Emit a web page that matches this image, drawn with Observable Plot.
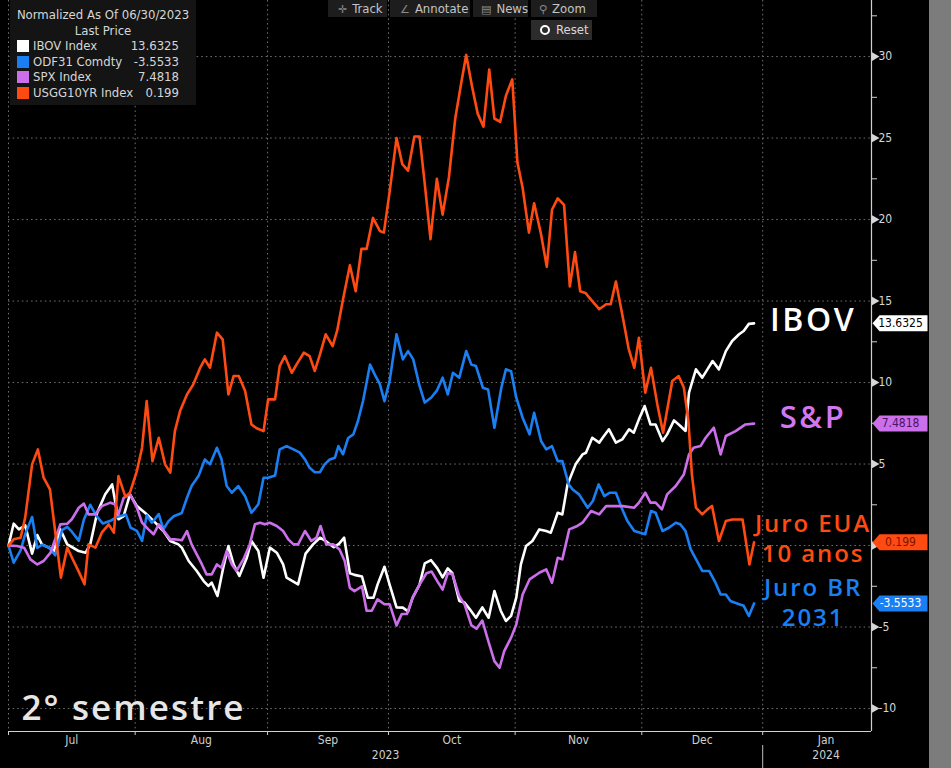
<!DOCTYPE html>
<html>
<head>
<meta charset="utf-8">
<script src="https://cdn.jsdelivr.net/npm/d3@7"></script>
<script src="https://cdn.jsdelivr.net/npm/@observablehq/plot@0.6"></script>
<style>
  body { margin: 0; background: #000; }
  #wrap { position: relative; width: 951px; height: 768px; background: #000; overflow: hidden;
          font-family: "Liberation Sans Narrow", "DejaVu Sans Condensed", "Arial Narrow", sans-serif; }
  #chart { position: absolute; left: 0; top: 0; }
  #strip { position: absolute; left: 929px; top: 0; width: 22px; height: 768px; background: #7c7c7c; }
  #legend { position: absolute; left: 10px; top: 0; width: 186px; height: 105px; background: #141414;
            color: #d6d6d6; font-size: 13px; line-height: 15.6px; }
  #legend .t { text-align: center; }
  #legend .t1 { margin-top: 7px; }
  #legend .row { position: relative; height: 15.6px; }
  #legend .sq { position: absolute; left: 7px; top: 2px; width: 12px; height: 12px; }
  #legend .nm { position: absolute; left: 23px; top: 0; }
  #legend .vl { position: absolute; right: 17px; top: 0; }
  .btn { position: absolute; top: 0; height: 17px; background: #1d1d1d; color: #c4c4c4; font-size: 13px;
         line-height: 17px; white-space: nowrap; }
  .btn .ic { color: #8a8a8a; margin-right: 5px; font-family: "DejaVu Sans", sans-serif; font-size: 11px; }
  #reset { position: absolute; left: 531px; top: 20px; width: 61px; height: 20px; background: #2c2c2c;
           color: #d8d8d8; font-size: 13px; line-height: 20px; }
  #reset .dot { position: absolute; left: 9px; top: 5px; width: 6px; height: 6px; border: 2.5px solid #fff;
                border-radius: 50%; background: #2c2c2c; }
  #reset span.tx { position: absolute; left: 25px; }
  svg .spaced text { letter-spacing: 0.08em; }
  svg .spaced-s text { letter-spacing: 0.06em; }
</style>
</head>
<body>
<div id="wrap">
  <div id="chart"></div>
  <div id="strip"></div>
  <div id="legend"></div>
  <div class="btn" style="left:328px;width:59px;"><span class="ic" style="margin-left:10px">✛</span>Track</div>
  <div class="btn" style="left:390px;width:80px;"><span class="ic" style="margin-left:10px">∠</span>Annotate</div>
  <div class="btn" style="left:473px;width:55px;"><span class="ic" style="margin-left:8px">▤</span>News</div>
  <div class="btn" style="left:531px;width:66px;"><span class="ic" style="margin-left:8px">⚲</span>Zoom</div>
  <div id="reset"><span class="dot"></span><span class="tx">Reset</span></div>
</div>
<script>
// ---------- DATA (x = trading day after 06/30/2023, y = % change, normalized at 06/30/2023) ----------
const ibov = [[0,0],[0.9,1.34],[1.8,0.99],[2.9,1.24],[4.1,-0.5],[5.0,0.64],[5.8,0.07],[7.0,-0.13],[7.9,-0.34],
  [9.0,0.99],[10.2,0.07],[11.0,-0.09],[12.2,-0.34],[13.4,-0.44],[14.2,0.07],[15.4,2.01],[16.8,3.14],[18.0,3.75],
  [19.1,1.61],[20.0,1.81],[21.1,3.14],[22.3,2.42],[23.7,2.01],[24.6,1.71],[25.8,1.30],[26.9,0.89],[28.1,0.28],
  [29.5,0.07],[30.1,-0.13],[31.3,-0.95],[32.7,-1.56],[33.9,-2.18],[34.7,-2.48],[35.3,-2.28],[36.3,-3.10],
  [37.3,-1.36],[38.2,-0.03],[39.1,-1.16],[40.1,-1.87],[41.4,-0.75],[42.2,0.28],[43.4,-0.34],[44.3,-1.97],
  [45.4,-0.13],[46.6,-0.44],[47.7,-1.16],[48.3,-1.97],[50.3,-2.38],[51.6,-0.5],[52.9,0.07],[54.1,0.48],
  [55.2,0.25],[56.5,-0.1],[57.4,0.1],[58.3,0.48],[59.3,-1.7],[60.1,-1.8],[61.4,-1.9],[62.4,-3.2],[63.4,-3.2],
  [64.1,-2.4],[65.3,-1.3],[66.2,-2.4],[67.4,-3.8],[68.5,-3.81],[69.4,-4.05],[70.2,-3.2],[71.4,-2.4],[72.3,-1.1],
  [73.4,-0.9],[74.5,-1.4],[75.4,-1.95],[76.3,-1.4],[77.1,-1.7],[78.3,-3.4],[79.2,-3.5],[80.1,-3.9],[81.2,-4.43],
  [82.3,-3.8],[83.4,-4.43],[84.4,-2.79],[85.5,-4.0],[86.4,-4.63],[87.3,-4.32],[88.2,-3.2],[89.0,-1.16],
  [89.9,-0.03],[91.0,0.28],[92.2,0.99],[93.4,0.89],[94.2,0.79],[95.4,2.01],[96.2,1.91],[97.1,3.75],[98.5,4.98],
  [99.7,5.59],[100.3,5.69],[101.4,6.61],[102.6,6.31],[103.2,6.61],[104.3,7.13],[105.5,6.31],[106.6,6.51],
  [107.8,7.13],[108.6,6.92],[109.5,7.74],[110.5,8.56],[111.5,7.43],[112.4,7.43],[113.6,6.41],[114.4,6.82],
  [115.6,7.68],[116.7,7.33],[117.6,7.03],[118.2,9.38],[119.4,10.81],[120.5,10.30],[121.4,10.81],[122.3,11.32],
  [123.4,10.81],[124.6,11.93],[125.7,12.55],[126.9,12.96],[127.7,13.16],[128.6,13.6],[129.5,13.6325]];

const odf31 = [[0,0],[0.9,-1.05],[2.1,-0.3],[2.9,0.7],[4.1,1.75],[5.0,-0.15],[5.8,0.05],[7.0,-0.1],[8.1,-0.6],
  [9.3,0.95],[10.2,1.15],[11.0,0.85],[12.2,0.3],[13.1,1.6],[14.2,2.5],[15.3,1.8],[16.4,1.35],[17.6,1.5],
  [18.8,1.75],[20.4,1.9],[21.2,1.1],[22.3,0.9],[23.2,0.28],[24.0,1.85],[24.9,1.4],[26.1,1.93],[26.9,1.0],
  [27.8,1.5],[28.7,1.8],[30.1,2.0],[31.0,2.93],[31.8,3.65],[33.0,4.26],[34.1,5.28],[35.0,4.98],[36.2,6.0],
  [37.0,5.29],[37.9,3.65],[38.8,3.24],[39.9,3.65],[41.1,3.03],[42.2,2.01],[43.4,2.53],[44.3,4.16],[45.1,4.16],
  [46.3,4.3],[47.1,5.9],[48.3,6.1],[49.5,5.9],[50.6,5.7],[51.5,5.28],[52.3,4.77],[53.2,4.5],[54.1,4.5],
  [54.9,4.98],[55.8,5.28],[56.7,5.39],[57.3,6.1],[58.1,5.6],[59.0,6.6],[59.9,6.82],[60.7,7.64],[61.6,8.9],
  [62.8,11.1],[63.6,10.5],[64.5,9.9],[65.3,8.86],[66.2,10.1],[67.4,12.96],[68.5,11.42],[69.4,11.93],
  [70.3,11.42],[71.4,9.79],[72.3,8.77],[73.4,9.07],[74.4,9.5],[75.4,10.30],[76.3,9.27],[77.2,10.6],[78.3,10.3],
  [79.5,11.93],[80.4,11.1],[81.2,11.01],[82.4,9.68],[83.3,9.58],[84.4,7.23],[85.6,9.68],[86.4,10.81],
  [87.3,10.7],[88.2,9.07],[89.3,7.84],[90.5,6.82],[91.3,8.15],[92.5,6.41],[93.4,5.9],[94.4,6.1],[95.4,5.18],
  [96.2,5.18],[97.3,3.75],[98.0,3.44],[99.1,3.14],[100.6,2.32],[101.5,2.73],[102.5,3.75],[103.5,3.03],
  [104.4,3.24],[105.5,3.24],[106.6,2.22],[107.5,1.50],[108.7,0.89],[109.6,0.8],[110.6,0.69],[111.6,2.12],
  [112.4,2.01],[113.6,0.89],[114.7,1.09],[115.9,1.40],[116.7,1.30],[117.6,0.89],[118.5,-0.24],[119.6,-0.95],
  [120.5,-1.56],[121.7,-1.56],[122.8,-2.28],[123.7,-3.0],[124.6,-3.0],[125.4,-3.4],[126.9,-3.6],[127.7,-3.7],
  [128.6,-4.32],[129.5,-3.5533]];

const spx = [[0,0],[1.5,-0.03],[2.7,-0.13],[3.8,-0.85],[5.0,-1.16],[6.1,-0.95],[7.3,-0.44],[9.0,1.30],
  [10.2,1.34],[11.0,1.61],[12.2,2.32],[13.1,2.57],[13.9,1.91],[15.1,1.91],[16.2,2.42],[17.7,2.63],[18.5,2.53],
  [19.1,1.91],[20.0,2.93],[21.1,3.14],[22.3,2.32],[23.2,1.40],[24.3,0.99],[25.2,0.69],[26.1,1.30],[27.2,0.79],
  [28.1,0.38],[28.9,0.38],[30.1,0.32],[31.0,0.89],[31.8,0.07],[32.7,-0.54],[33.6,-1.16],[34.4,-1.77],
  [35.3,-1.77],[36.2,-1.16],[37.0,-1.36],[37.9,-0.34],[38.8,-1.16],[39.6,-1.56],[40.8,-0.85],[41.9,0.07],
  [42.8,1.30],[43.7,1.40],[44.5,1.30],[45.4,1.40],[46.6,1.20],[47.7,0.89],[48.6,0.38],[49.5,0.07],[50.3,0.07],
  [51.5,0.89],[52.6,0.28],[53.5,0.48],[54.2,1.20],[55.2,0.07],[56.4,0.07],[57.5,-0.24],[58.4,-0.95],
  [59.3,-2.6],[60.1,-2.8],[61.4,-2.5],[62.2,-4.0],[63.1,-4.0],[64.1,-3.3],[65.3,-3.6],[66.2,-3.6],[67.4,-4.9],
  [68.3,-4.2],[69.2,-4.2],[70.2,-3.2],[71.4,-2.4],[72.6,-1.7],[73.5,-1.6],[74.5,-2.2],[75.4,-2.7],[76.3,-1.7],
  [77.1,-1.75],[78.3,-3.1],[79.2,-3.6],[80.4,-4.9],[81.3,-5.1],[82.3,-4.6],[83.2,-5.7],[84.4,-7.09],
  [85.3,-7.5],[86.1,-6.48],[87.3,-5.65],[88.2,-4.84],[89.3,-3.0],[90.5,-2.08],[92.2,-1.67],[93.4,-1.46],
  [94.4,-2.28],[95.4,-0.75],[96.2,-0.85],[97.4,0.99],[98.8,1.20],[99.7,1.40],[101.2,2.12],[102.6,1.91],
  [103.8,2.42],[106.7,2.42],[108.7,2.32],[109.5,2.63],[110.6,3.24],[111.5,2.63],[112.4,2.63],[113.5,2.22],
  [114.4,3.14],[115.9,3.65],[117.3,4.36],[118.2,5.59],[119.0,6.0],[120.2,6.1],[121.1,6.61],[122.5,7.23],
  [123.7,5.59],[124.6,6.72],[126.3,7.02],[128.0,7.43],[129.5,7.4818]];

const usgg10 = [[0,0],[0.9,0.38],[2.1,0.48],[2.9,1.71],[4.1,4.98],[5.1,5.9],[6.1,4.16],[7.2,3.44],[8.1,0.89],
  [9.1,-1.97],[10.2,-0.13],[11.3,-0.95],[12.2,-1.6],[13.2,-2.38],[13.9,0.07],[15.1,-0.13],[16.2,0.79],
  [17.4,1.30],[18.3,0.79],[19.1,4.26],[20.3,3.0],[21.1,3.24],[22.3,4.57],[23.2,6.0],[24.0,8.86],[25.0,5.18],
  [26.1,6.61],[27.2,4.98],[28.1,4.47],[28.9,7.02],[29.8,8.25],[31.0,9.27],[32.1,9.89],[33.3,10.91],[34.1,11.42],
  [35.0,10.91],[36.2,13.06],[37.2,12.65],[38.2,9.27],[39.1,10.40],[40.0,10.40],[41.1,9.48],[42.2,7.43],
  [43.1,7.2],[44.3,7.02],[45.1,8.97],[46.3,8.97],[47.1,11.01],[48.0,11.62],[49.2,10.6],[50.2,11.21],
  [51.3,11.83],[52.3,11.62],[53.2,10.71],[54.1,11.73],[55.1,12.96],[56.3,12.24],[57.1,13.2],[58.1,15.1],
  [59.3,17.2],[60.3,15.6],[61.3,18.2],[62.2,18.2],[63.3,20.1],[64.5,19.3],[65.2,19.2],[66.2,21.7],[67.4,25.0],
  [68.4,23.4],[69.4,23.0],[70.5,25.1],[71.4,25.1],[72.3,22.2],[73.3,18.8],[74.4,22.5],[75.4,20.3],[76.5,22.6],
  [77.6,26.2],[78.6,28.3],[79.5,30.1],[80.5,28.2],[81.5,26.5],[82.5,25.7],[83.5,29.2],[84.4,26.2],[85.4,26.0],
  [86.4,27.6],[87.5,28.6],[88.4,23.5],[89.3,21.95],[90.4,19.2],[91.3,21.0],[92.5,19.1],[93.5,17.1],[94.4,20.6],
  [95.4,21.3],[96.5,20.9],[97.5,15.9],[98.4,18.0],[99.3,15.6],[100.2,15.5],[101.4,15.0],[102.6,14.5],
  [103.8,14.8],[104.6,14.8],[105.5,16.2],[106.7,14.0],[107.7,12.1],[108.7,10.9],[109.5,12.75],[110.6,9.38],
  [111.6,10.9],[112.7,8.66],[113.7,6.92],[115.3,10.1],[116.4,10.4],[117.3,9.7],[118.1,7.64],[118.7,4.36],
  [119.4,2.32],[120.5,1.91],[121.4,2.22],[122.2,2.43],[123.4,0.28],[124.6,1.50],[125.7,1.60],[127.5,1.60],
  [128.7,-1.16],[129.5,0.199]];

const seriesNames  = ["IBOV Index", "ODF31 Comdty", "SPX Index", "USGG10YR Index"];
const seriesLabels = [["IBOV"], ["Juro BR", "2031"], ["S&P"], ["Juro EUA", "10 anos"]];
const lastPrice    = ["13.6325", "-3.5533", "7.4818", "0.199"];
const monthLabels  = ["Jul", "Aug", "Sep", "Oct", "Nov", "Dec", "Jan"];
const monthStart   = [0, 22, 45, 66, 88, 110, 131, 153];   // trading day of each month's start
const yearLabels   = ["2023", "2024"];
const yTicks       = [-10, -5, 0, 5, 10, 15, 20, 25, 30];
const legendTitle  = ["Normalized As Of 06/30/2023", "Last Price"];
const cornerNote   = "2° semestre";

// ---------- STYLE ----------
const colors     = ["#ffffff", "#1a7ff2", "#cc6fea", "#ff4b12"];
const badgeInk   = ["#000000", "#ffffff", "#4a1560", "#7a1500"];
const labelColor = ["#ffffff", "#1a7ff2", "#d277f2", "#ff4b12"];
const labelSize  = [32, 24, 31, 24];
const labelShift = [-3, 0, -6, -3];
const labelGap   = [0, 30, 0, 30];
const seriesData = [ibov, odf31, spx, usgg10];
const drawOrder  = [0, 1, 2, 3];

const xDomain = [0, 149.9];
const yDomain = [-11.41, 33.44];
const narrow = '"Liberation Sans Narrow", "DejaVu Sans Condensed", "Arial Narrow", sans-serif';
const wide = '"Open Sans", "Noto Sans", sans-serif';

const rows = seriesData.map(d => d.map(([t, v]) => ({t, v})));
const lastRows = rows.map((r, i) => ({...r[r.length - 1], i}));
const minorTicks = yTicks.map(d => d + 2.5).concat([yTicks[0] - 2.5]).filter(d => d > yDomain[0] && d < yDomain[1]);
// tick labels hidden behind a last-price badge (as in the reference)
const labelTicks = yTicks.filter(d => lastRows.every(r => Math.abs(r.v - d) > 0.6));
const monthRows = monthLabels.map((m, i) => ({label: m, mid: (monthStart[i] + monthStart[i + 1]) / 2}));
const yearRows = [
  {label: yearLabels[0], mid: (monthStart[0] + monthStart[6]) / 2},
  {label: yearLabels[1], mid: (monthStart[6] + monthStart[7]) / 2}
];

const badge = {
  draw(ctx) {
    ctx.moveTo(1, 0); ctx.lineTo(8, -8); ctx.lineTo(56, -8); ctx.lineTo(56, 8); ctx.lineTo(8, 8); ctx.closePath();
  }
};

const grid = {stroke: "#6e6e6e", strokeDasharray: "1.6,3", strokeWidth: 1};

const marks = [
  Plot.ruleY(yTicks, grid),
  Plot.ruleX(monthStart.slice(0, 7), grid),
  Plot.ruleY([yDomain[0]], {stroke: "#d0d0d0", strokeWidth: 1.2}),
  Plot.ruleX([xDomain[1]], {stroke: "#d0d0d0", strokeWidth: 1.2}),
  Plot.axisX({ticks: monthStart.slice(0, 7), tickSize: 4, tickFormat: () => "", label: null, stroke: "#d0d0d0"}),
  Plot.text(monthRows, {x: "mid", text: "label", frameAnchor: "bottom", dy: 12, fontSize: 12, fill: "#cfcfcf"}),
  Plot.text(yearRows, {x: "mid", text: "label", frameAnchor: "bottom", dy: 27, fontSize: 12, fill: "#cfcfcf"}),
  Plot.ruleX([monthStart[6]], {insetTop: 745, insetBottom: -37, stroke: "#bdbdbd"}),
  Plot.axisY({anchor: "right", ticks: minorTicks, tickSize: 5, tickFormat: () => "", label: null, stroke: "#d0d0d0"}),
  Plot.axisY({anchor: "right", ticks: labelTicks, tickSize: 0, tickPadding: 7, tickFormat: d => String(d),
              label: null, fontSize: 12, fill: "#d6d6d6"}),
  Plot.dot(yTicks, {y: Plot.identity, frameAnchor: "right", symbol: "triangle", rotate: 90, r: 3.2,
                    fill: "#d6d6d6", dx: 3}),
  Plot.text([cornerNote], {frameAnchor: "bottom-left", text: Plot.identity, dx: 13, dy: -12, textAnchor: "start",
                           lineAnchor: "bottom", fontSize: 35, fill: "#e6e6e6", fontFamily: wide, fontWeight: 600,
                           ariaDescription: "corner-note"})
];

for (const i of drawOrder) {
  marks.push(Plot.line(rows[i], {x: "t", y: "v", stroke: colors[i], strokeWidth: 2.6,
                                 strokeLinejoin: "round", strokeLinecap: "round"}));
}
for (const i of drawOrder) {
  const L = [lastRows[i]];
  marks.push(
    Plot.dot(L, {y: "v", frameAnchor: "right", symbol: badge, fill: colors[i], r: 5}),
    Plot.text(L, {y: "v", frameAnchor: "right", text: () => lastPrice[i], dx: 29, fontSize: 12,
                  fill: badgeInk[i], textAnchor: "middle"})
  );
  const lines = seriesLabels[i];
  lines.forEach((line, k) => {
    marks.push(Plot.text(L, {x: "t", y: "v", text: () => line, dx: 59,
                  dy: labelShift[i] + (k - (lines.length - 1) / 2) * labelGap[i],
                  textAnchor: "middle", lineAnchor: "middle", fontSize: labelSize[i],
                  fontWeight: 600, fontFamily: wide, fill: labelColor[i], ariaDescription: "series-label"}));
  });
}

const chart = Plot.plot({
  width: 951, height: 768,
  marginLeft: 8, marginRight: 80, marginTop: 0, marginBottom: 37,
  x: {domain: xDomain},
  y: {domain: yDomain},
  style: {background: "#000", color: "#d6d6d6", fontFamily: narrow, fontSize: "12px", overflow: "visible"},
  marks
});
// widen the annotation lettering (the reference uses a broad geometric face)
chart.querySelectorAll('g[aria-description="series-label"]').forEach(g => g.classList.add("spaced"));
chart.querySelectorAll('g[aria-description="corner-note"]').forEach(g => g.classList.add("spaced-s"));
document.getElementById("chart").appendChild(chart);

// ---------- LEGEND (HTML overlay) ----------
const lg = document.getElementById("legend");
lg.innerHTML =
  `<div class="t t1">${legendTitle[0]}</div><div class="t">${legendTitle[1]}</div>` +
  seriesNames.map((n, i) =>
    `<div class="row"><span class="sq" style="background:${colors[i]}"></span>` +
    `<span class="nm">${n}</span><span class="vl">${lastPrice[i]}</span></div>`).join("");
</script>
</body>
</html>
